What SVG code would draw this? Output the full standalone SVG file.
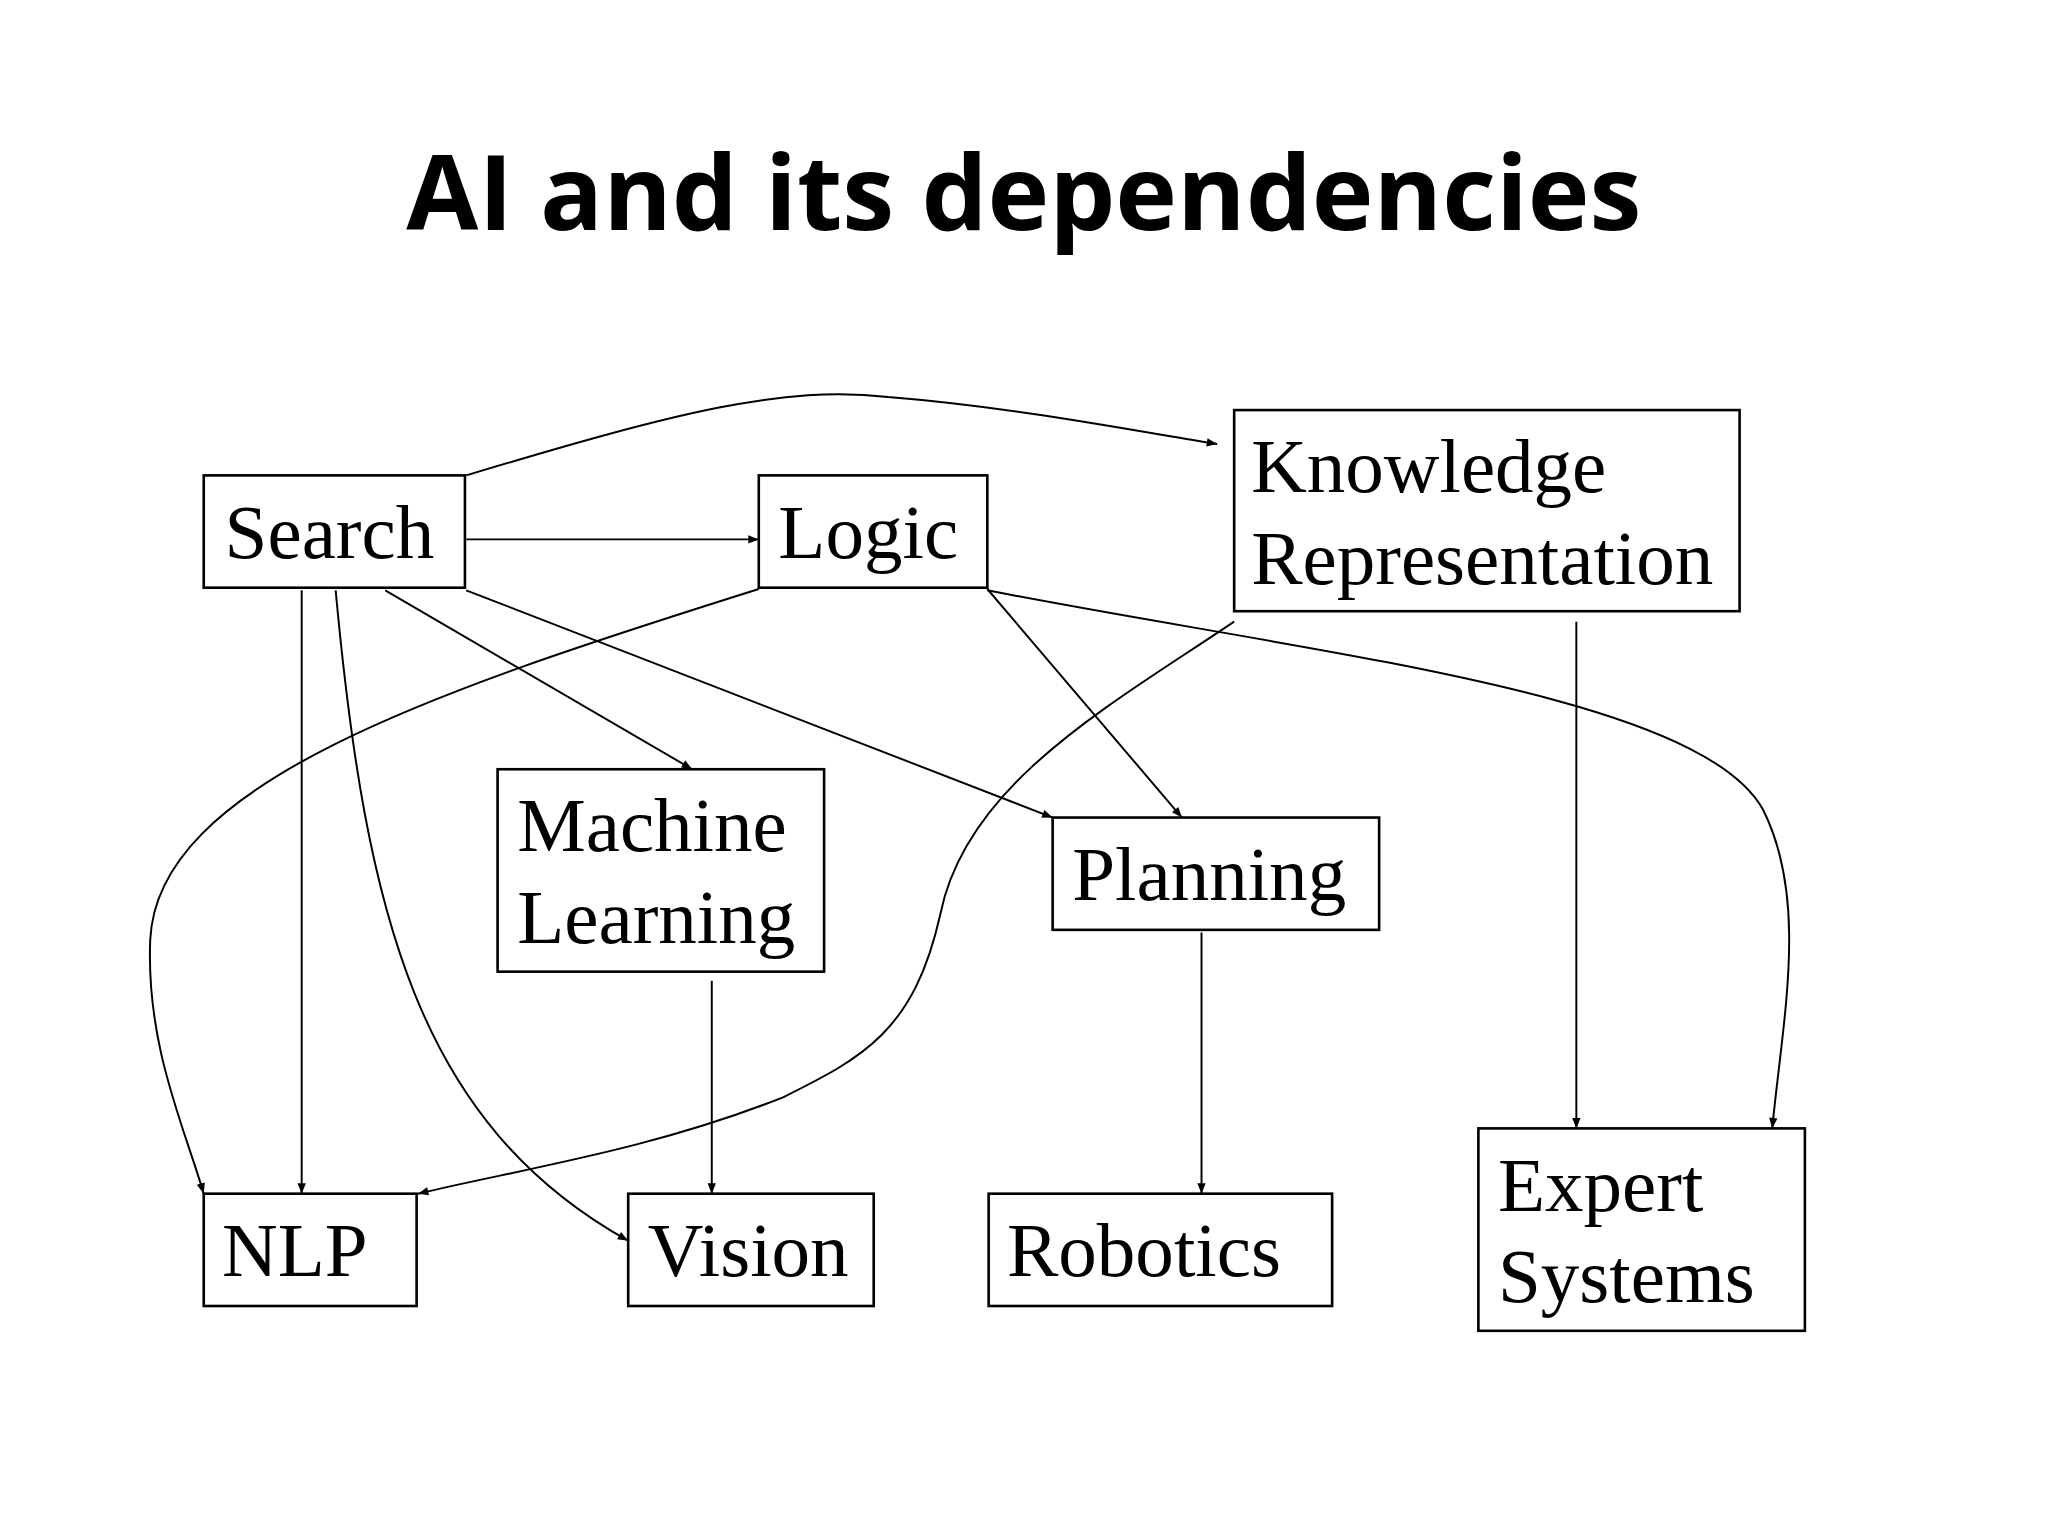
<svg xmlns="http://www.w3.org/2000/svg" width="2048" height="1536" viewBox="0 0 2048 1536">
<style>
.box{fill:#fff;stroke:#000;stroke-width:2}
.t{font-family:"Liberation Serif",serif;font-size:59px;fill:#000}
.e{fill:none;stroke:#000;stroke-width:1.5}
</style>
<defs><marker id="a" viewBox="0 0 10 10" refX="10" refY="5" markerWidth="9" markerHeight="8" markerUnits="userSpaceOnUse" orient="auto"><path d="M0,1 L10,5 L0,9 z" fill="#000"/></marker></defs>
<rect width="2048" height="1536" fill="#fff"/>
<g transform="scale(1.306)">
<text x="784" y="176" text-anchor="middle" font-family="Open Sans,sans-serif" font-weight="bold" font-size="80">AI and its dependencies</text>
<g id="connectors">
<path class="e" marker-end="url(#a)" d="M357,364 C520,315 600,295 680,304 C780,312 880,332 932,340"/>
<path class="e" marker-end="url(#a)" d="M357,413 L581,413"/>
<path class="e" marker-end="url(#a)" d="M231,452 L231,914"/>
<path class="e" marker-end="url(#a)" d="M257,452 C280,700 320,860 481,950"/>
<path class="e" marker-end="url(#a)" d="M295,452 L530,589"/>
<path class="e" marker-end="url(#a)" d="M357,452 L806,626"/>
<path class="e" marker-end="url(#a)" d="M581,451 C330,530 120,600 115,720 C112,800 140,860 156,914"/>
<path class="e" marker-end="url(#a)" d="M756,451 L905,626"/>
<path class="e" marker-end="url(#a)" d="M756,452 C1000,500 1300,530 1350,620 C1385,690 1365,780 1357,864"/>
<path class="e" marker-end="url(#a)" d="M945,476 C850,540 740,600 720,700 C700,790 660,810 600,840 C500,880 400,895 320,914"/>
<path class="e" marker-end="url(#a)" d="M1207,476 L1207,864"/>
<path class="e" marker-end="url(#a)" d="M545,751 L545,914"/>
<path class="e" marker-end="url(#a)" d="M920,714 L920,914"/>
</g>
<g id="search"><rect class="box" x="156" y="364" width="200" height="86"/><text class="t" x="172" y="427">Search</text></g>
<g id="logic"><rect class="box" x="581" y="364" width="175" height="86"/><text class="t" x="596" y="427">Logic</text></g>
<g id="kr"><rect class="box" x="945" y="314" width="387" height="154"/><text class="t" x="958" y="377">Knowledge</text><text class="t" x="958" y="447">Representation</text></g>
<g id="ml"><rect class="box" x="381" y="589" width="250" height="155"/><text class="t" x="396" y="652">Machine</text><text class="t" x="396" y="722">Learning</text></g>
<g id="planning"><rect class="box" x="806" y="626" width="250" height="86"/><text class="t" x="821" y="689">Planning</text></g>
<g id="nlp"><rect class="box" x="156" y="914" width="163" height="86"/><text class="t" x="170" y="977">NLP</text></g>
<g id="vision"><rect class="box" x="481" y="914" width="188" height="86"/><text class="t" x="496" y="977">Vision</text></g>
<g id="robotics"><rect class="box" x="757" y="914" width="263" height="86"/><text class="t" x="771" y="977">Robotics</text></g>
<g id="expert"><rect class="box" x="1132" y="864" width="250" height="155"/><text class="t" x="1147" y="927">Expert</text><text class="t" x="1147" y="997">Systems</text></g>
</g>
</svg>
